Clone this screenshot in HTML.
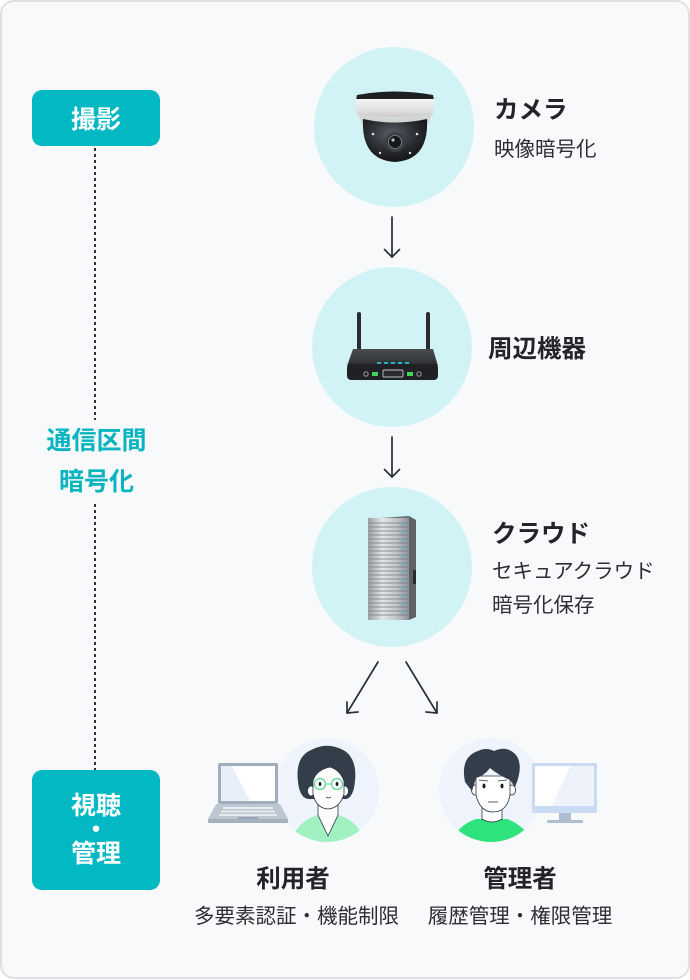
<!DOCTYPE html>
<html lang="ja">
<head>
<meta charset="utf-8">
<style>
  html,body{margin:0;padding:0;background:#ffffff;}
  body{width:690px;height:980px;position:relative;overflow:hidden;
       font-family:"Liberation Sans","Noto Sans CJK JP",sans-serif;}
  .card{position:absolute;left:0;top:0;width:690px;height:979px;box-sizing:border-box;
        border:2px solid #dfe0e3;border-radius:14px;background:#f8f9fb;}
  .badge{position:absolute;left:32px;width:128px;background:#02b8c3;border-radius:10px;
         color:#fff;font-weight:bold;font-size:25px;display:flex;align-items:center;justify-content:center;
         text-align:center;}
  .t{position:absolute;white-space:nowrap;color:#222428;}
  .ttl{font-size:24.5px;font-weight:bold;line-height:30px;}
  .sub{font-size:20.5px;line-height:26px;color:#2c2e33;}
  .teal{position:absolute;left:0;width:193px;text-align:center;color:#07b4c0;font-weight:bold;font-size:25px;line-height:41px;}
  svg{position:absolute;left:0;top:0;}
</style>
</head>
<body>
<div class="card"></div>

<svg width="690" height="980" viewBox="0 0 690 980">
  <defs>
    <linearGradient id="house" x1="0" y1="0" x2="0" y2="1">
      <stop offset="0" stop-color="#f4f4f4"/>
      <stop offset="0.6" stop-color="#e2e2e2"/>
      <stop offset="1" stop-color="#c9c9c9"/>
    </linearGradient>
    <radialGradient id="dome" cx="0.45" cy="0.35" r="0.7">
      <stop offset="0" stop-color="#5a5f66"/>
      <stop offset="0.6" stop-color="#25282c"/>
      <stop offset="1" stop-color="#111"/>
    </radialGradient>
    <linearGradient id="srv" x1="0" y1="0" x2="1" y2="0">
      <stop offset="0" stop-color="#9a9ea3"/>
      <stop offset="0.35" stop-color="#e3e5e7"/>
      <stop offset="0.7" stop-color="#c2c5c8"/>
      <stop offset="1" stop-color="#8e9297"/>
    </linearGradient>
    <linearGradient id="rtop" x1="0" y1="0" x2="0" y2="1">
      <stop offset="0" stop-color="#4a4d52"/>
      <stop offset="1" stop-color="#2c2e32"/>
    </linearGradient>
    <clipPath id="c1"><circle cx="327" cy="790" r="52"/></clipPath>
    <clipPath id="c2"><circle cx="491" cy="790" r="52"/></clipPath>
  </defs>

  <!-- dotted timeline -->
  <line x1="95" y1="148" x2="95" y2="420" stroke="#2d3038" stroke-width="2" stroke-dasharray="3 3"/>
  <line x1="95" y1="504" x2="95" y2="770" stroke="#2d3038" stroke-width="2" stroke-dasharray="3 3"/>

  <!-- main circles -->
  <circle cx="394" cy="127" r="80" fill="#d1f3f5"/>
  <circle cx="392" cy="347" r="80" fill="#d1f3f5"/>
  <circle cx="392" cy="567" r="80" fill="#d1f3f5"/>

  <!-- camera -->
  <g>
    <path d="M357 95 Q395 88 433 95 L434 100 L356 100 Z" fill="#1e1f22"/>
    <path d="M355 99 L435 99 L433 114 Q395 120 357 114 Z" fill="url(#house)"/>
    <path d="M358 114 Q395 121 432 114 L428 124 Q395 130 362 124 Z" fill="#d4d4d4"/>
    <path d="M363 119 Q395 126 427 119 Q429 160 395 162 Q361 160 363 119 Z" fill="url(#dome)"/>
    <circle cx="395" cy="142" r="10" fill="#3c4046"/>
    <circle cx="395" cy="142" r="6.5" fill="#15171a" stroke="#888" stroke-width="0.8"/>
    <circle cx="393" cy="140" r="1.6" fill="#bbb"/>
    <circle cx="373" cy="134" r="1.3" fill="#ddd"/>
    <circle cx="417" cy="134" r="1.3" fill="#ddd"/>
    <circle cx="380" cy="153" r="1.2" fill="#ddd"/>
    <circle cx="410" cy="153" r="1.2" fill="#ddd"/>
  </g>

  <!-- router -->
  <g>
    <rect x="357" y="312" width="4" height="52" rx="2" fill="#2a2c30"/>
    <rect x="426" y="312" width="4" height="52" rx="2" fill="#2a2c30"/>
    <path d="M353 349 L433 349 L438 366 L347 366 Z" fill="url(#rtop)"/>
    <rect x="347" y="364" width="91" height="16" rx="4" fill="#1f2124"/>
    <rect x="377" y="362" width="4" height="2" fill="#27b4c8"/>
    <rect x="384" y="362" width="4" height="2" fill="#27b4c8"/>
    <rect x="391" y="362" width="4" height="2" fill="#27b4c8"/>
    <rect x="398" y="362" width="4" height="2" fill="#27b4c8"/>
    <rect x="405" y="362" width="4" height="2" fill="#27b4c8"/>
    <circle cx="366" cy="374" r="2.2" fill="none" stroke="#aaa" stroke-width="0.9"/>
    <circle cx="419" cy="374" r="2.2" fill="none" stroke="#aaa" stroke-width="0.9"/>
    <rect x="372" y="372" width="6" height="4" fill="#3fd85a"/>
    <rect x="407" y="372" width="6" height="4" fill="#3fd85a"/>
    <rect x="383" y="370" width="20" height="7" rx="1" fill="#2a2c30" stroke="#bfc2c6" stroke-width="0.9"/>
  </g>

  <!-- server -->
  <g>
    <path d="M368 519 L408 516 L416 520 L416 617 L408 620 L368 619 Z" fill="#6c7075"/>
    <rect x="368" y="518" width="41" height="102" fill="url(#srv)"/>
    <path d="M409 516 L416 520 L416 617 L409 620 Z" fill="#5e6267"/>
    <rect x="413" y="570" width="3" height="14" fill="#2a2c2f"/>
    <g stroke="#767b81" stroke-width="0.7">
      <line x1="369" y1="523" x2="408" y2="523"/><line x1="369" y1="527" x2="408" y2="527"/>
      <line x1="369" y1="531" x2="408" y2="531"/><line x1="369" y1="535" x2="408" y2="535"/>
      <line x1="369" y1="539" x2="408" y2="539"/><line x1="369" y1="543" x2="408" y2="543"/>
      <line x1="369" y1="547" x2="408" y2="547"/><line x1="369" y1="551" x2="408" y2="551"/>
      <line x1="369" y1="555" x2="408" y2="555"/><line x1="369" y1="559" x2="408" y2="559"/>
      <line x1="369" y1="563" x2="408" y2="563"/><line x1="369" y1="567" x2="408" y2="567"/>
      <line x1="369" y1="571" x2="408" y2="571"/><line x1="369" y1="575" x2="408" y2="575"/>
      <line x1="369" y1="579" x2="408" y2="579"/><line x1="369" y1="583" x2="408" y2="583"/>
      <line x1="369" y1="587" x2="408" y2="587"/><line x1="369" y1="591" x2="408" y2="591"/>
      <line x1="369" y1="595" x2="408" y2="595"/><line x1="369" y1="599" x2="408" y2="599"/>
      <line x1="369" y1="603" x2="408" y2="603"/><line x1="369" y1="607" x2="408" y2="607"/>
      <line x1="369" y1="611" x2="408" y2="611"/><line x1="369" y1="615" x2="408" y2="615"/>
    </g>
    <g fill="#5fb6d6">
      <rect x="401" y="524" width="3" height="1.5"/><rect x="401" y="532" width="3" height="1.5"/>
      <rect x="401" y="540" width="3" height="1.5"/><rect x="401" y="548" width="3" height="1.5"/>
      <rect x="401" y="556" width="3" height="1.5"/><rect x="401" y="564" width="3" height="1.5"/>
      <rect x="401" y="572" width="3" height="1.5"/><rect x="401" y="580" width="3" height="1.5"/>
      <rect x="401" y="588" width="3" height="1.5"/><rect x="401" y="596" width="3" height="1.5"/>
      <rect x="401" y="604" width="3" height="1.5"/><rect x="401" y="612" width="3" height="1.5"/>
    </g>
  </g>

  <!-- arrows -->
  <g stroke="#2b2f36" stroke-width="1.7" fill="none" stroke-linecap="round" stroke-linejoin="round">
    <line x1="392" y1="217" x2="392" y2="257"/>
    <polyline points="384.5,249.5 392,257 399.5,249.5"/>
    <line x1="392" y1="437" x2="392" y2="477"/>
    <polyline points="384.5,469.5 392,477 399.5,469.5"/>
    <line x1="378" y1="662" x2="347" y2="713"/>
    <polyline points="347,702 347,713 358,712"/>
    <line x1="406" y1="662" x2="437" y2="713"/>
    <polyline points="437,702 437,713 426,712"/>
  </g>

  <!-- user circles -->
  <circle cx="327" cy="790" r="52" fill="#eef3fc"/>
  <circle cx="491" cy="790" r="52" fill="#eef3fc"/>

  <!-- laptop -->
  <g>
    <rect x="218" y="763" width="60" height="41" rx="2" fill="#9fadbd"/>
    <rect x="221" y="766" width="54" height="35" fill="#ffffff"/>
    <path d="M221 766 L232 766 L250 801 L221 801 Z" fill="#e8eff9"/>
    <path d="M216 804 L280 804 L288 819 L208 819 Z" fill="#bdc7d1"/>
    <rect x="208" y="819" width="80" height="4" rx="1" fill="#a5b1be"/>
    <g fill="#e6ebf1">
      <rect x="223" y="807" width="50" height="2"/>
      <rect x="221" y="810.5" width="54" height="2"/>
      <rect x="219" y="814" width="58" height="2"/>
    </g>
    <rect x="238" y="817" width="20" height="2" fill="#9aa6b3"/>
  </g>

  <!-- female user -->
  <g clip-path="url(#c1)">
    <path d="M288 845 Q298 820 318 815 L338 815 Q358 820 368 845 Z" fill="#a0f0c2"/>
    <path d="M318 796 L318 815 L328 836 L338 815 L338 796 Z" fill="#fff" stroke="#2d3440" stroke-width="0.8"/>
  </g>
  <path d="M299 788 Q293 758 311 750 Q328 741 345 751 Q359 761 354 788 Q351 800 344 799 L311 799 Q302 800 299 788 Z" fill="#343e4b"/>
  <ellipse cx="311" cy="791" rx="3.5" ry="5" fill="#fff" stroke="#2d3440" stroke-width="0.8"/>
  <ellipse cx="345" cy="791" rx="3.5" ry="5" fill="#fff" stroke="#2d3440" stroke-width="0.8"/>
  <path d="M313 781 Q316 770 330 767 Q340 770 344 781 L344 794 Q340 808 328 809 Q316 808 313 794 Z" fill="#fff" stroke="#2d3440" stroke-width="0.8"/>
  <circle cx="320" cy="784" r="5.5" fill="none" stroke="#55d98c" stroke-width="1.2"/>
  <circle cx="337" cy="784" r="5.5" fill="none" stroke="#55d98c" stroke-width="1.2"/>
  <line x1="325.5" y1="784" x2="331.5" y2="784" stroke="#55d98c" stroke-width="1"/>
  <ellipse cx="320" cy="784" rx="1.4" ry="2" fill="#1b1e22"/>
  <ellipse cx="337" cy="784" rx="1.4" ry="2" fill="#1b1e22"/>
  <path d="M326 797 Q328 799 331 797" fill="none" stroke="#2d3440" stroke-width="0.8"/>

  <!-- male admin -->
  <g clip-path="url(#c2)">
    <path d="M450 845 Q456 826 476 819 L507 819 Q526 826 534 845 Z" fill="#2ee27c"/>
    <path d="M482 806 L482 819 Q492 825 502 819 L502 806 Z" fill="#fff" stroke="#2d3440" stroke-width="0.8"/>
  </g>
  <ellipse cx="475" cy="790" rx="3.5" ry="5" fill="#fff" stroke="#2d3440" stroke-width="0.8"/>
  <ellipse cx="512" cy="790" rx="3.5" ry="5" fill="#fff" stroke="#2d3440" stroke-width="0.8"/>
  <path d="M476 776 L476 795 Q480 812 493 812 Q507 812 510 795 L510 776 Z" fill="#fff" stroke="#2d3440" stroke-width="0.8"/>
  <path d="M465 782 Q460 757 478 751 Q486 747 494 751 Q507 745 516 755 Q524 766 515 787 L510 780 Q498 775 490 768 Q484 776 476 778 L472 791 Z" fill="#343e4b"/>
  <ellipse cx="484" cy="786" rx="1.5" ry="2.4" fill="#1b1e22"/>
  <ellipse cx="502" cy="786" rx="1.5" ry="2.4" fill="#1b1e22"/>
  <path d="M479 780 L488 781 M498 781 L507 780" stroke="#2d3440" stroke-width="0.8"/>
  <path d="M488 802 L498 802" stroke="#2d3440" stroke-width="0.8"/>

  <!-- monitor -->
  <g>
    <rect x="532" y="763" width="65" height="50" rx="2" fill="#c9dbf3"/>
    <rect x="535" y="766" width="59" height="40" fill="#ffffff"/>
    <path d="M570 766 L594 766 L594 806 L552 806 Z" fill="#eef3fb"/>
    <rect x="559" y="813" width="12" height="7" fill="#aebdd0"/>
    <rect x="547" y="820" width="36" height="3" rx="1" fill="#aebdd0"/>
  </g>
</svg>

<!-- left badges & labels -->
<div class="badge" style="top:90px;height:56px;">撮影</div>
<div class="badge" style="top:770px;height:120px;line-height:24px;"><div>視聴<br>・<br>管理</div></div>
<div class="teal" style="top:421px;">通信区間<br>暗号化</div>

<!-- node labels -->
<div class="t ttl" style="left:494px;top:96px;">カメラ</div>
<div class="t sub" style="left:494px;top:137px;">映像暗号化</div>

<div class="t ttl" style="left:488px;top:335px;">周辺機器</div>

<div class="t ttl" style="left:492px;top:520px;">クラウド</div>
<div class="t sub" style="left:492px;top:559px;">セキュアクラウド</div>
<div class="t sub" style="left:492px;top:593px;">暗号化保存</div>

<div class="t ttl" style="left:193px;width:200px;text-align:center;top:865px;">利用者</div>
<div class="t sub" style="left:194px;width:200px;text-align:center;top:904px;">多要素認証・機能制限</div>

<div class="t ttl" style="left:420px;width:200px;text-align:center;top:865px;">管理者</div>
<div class="t sub" style="left:420px;width:200px;text-align:center;top:904px;">履歴管理・権限管理</div>
</body>
</html>
